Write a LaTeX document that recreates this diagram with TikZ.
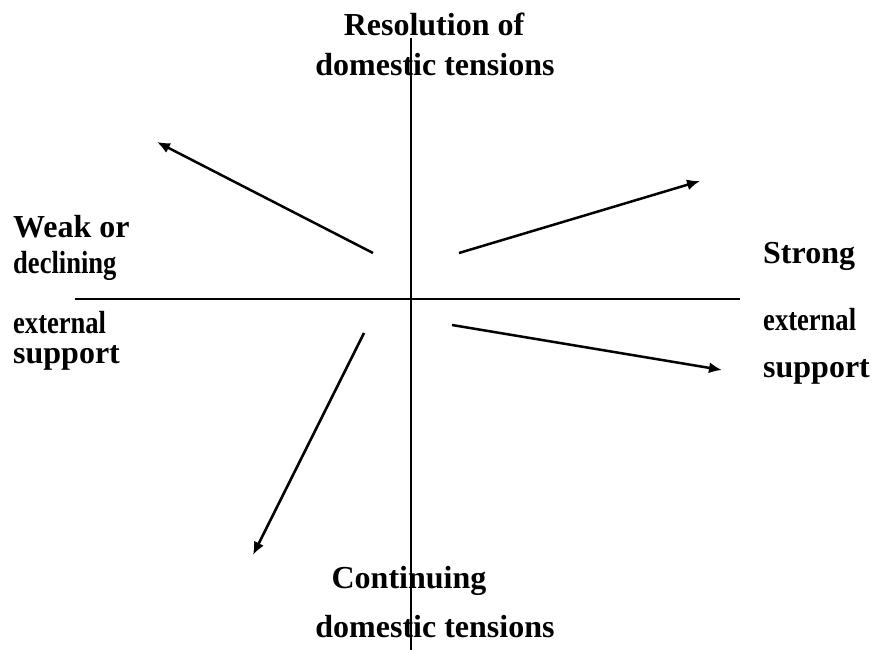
\documentclass[tikz,border=0pt]{standalone}
\usepackage{fontspec}
\setmainfont{Liberation Serif}
\newfontfamily\narrowfont[FakeStretch=0.83]{Liberation Serif}
\usetikzlibrary{arrows.meta}

\begin{document}
\begin{tikzpicture}[x=1pt, y=-1pt,
  lbl/.style={inner sep=0pt, font=\fontsize{32}{36}\selectfont\bfseries},
  narrowlbl/.style={inner sep=0pt, font=\fontsize{32}{36}\selectfont\narrowfont\bfseries},
  axis/.style={line width=2.5pt},
  trend/.style={-{Latex[length=13pt,width=11pt]}, line width=2.5pt}]
\useasboundingbox (0,0) rectangle (873,650);
% axes
\coordinate (west) at (75,299);
\coordinate (east) at (740,299);
\coordinate (north) at (411,38);
\coordinate (south) at (411,650);
\draw[axis] (west) -- (east);
\draw[axis] (north) -- (south);
% top and bottom labels
\node[lbl, anchor=base] (res1) at (434,36) {Resolution of};
\node[lbl, anchor=base] (res2) at (435,76) {domestic tensions};
\node[lbl, anchor=base] (cont1) at (409,588) {Continuing};
\node[lbl, anchor=base] (cont2) at (435,637) {domestic tensions};
% left labels
\node[lbl, anchor=base west] (weak1) at (13,237) {Weak or};
\node[narrowlbl, anchor=base west] (weak2) at (13,273) {declining};
\node[narrowlbl, anchor=base west] (weak3) at (13,333) {external};
\node[lbl, anchor=base west] (weak4) at (13,363) {support};
% right labels
\node[lbl, anchor=base west] (strong1) at (763,263) {Strong};
\node[narrowlbl, anchor=base west] (strong2) at (763,330) {external};
\node[lbl, anchor=base west] (strong3) at (763,377) {support};
% arrows
\coordinate (nw0) at (373,253);
\coordinate (nw1) at (157,142);
\coordinate (ne0) at (459,253);
\coordinate (ne1) at (700,181);
\coordinate (se0) at (452,325);
\coordinate (se1) at (722,370);
\coordinate (sw0) at (364,333);
\coordinate (sw1) at (253,555);
\draw[trend] (nw0) -- (nw1);
\draw[trend] (ne0) -- (ne1);
\draw[trend] (se0) -- (se1);
\draw[trend] (sw0) -- (sw1);
\end{tikzpicture}
\end{document}
